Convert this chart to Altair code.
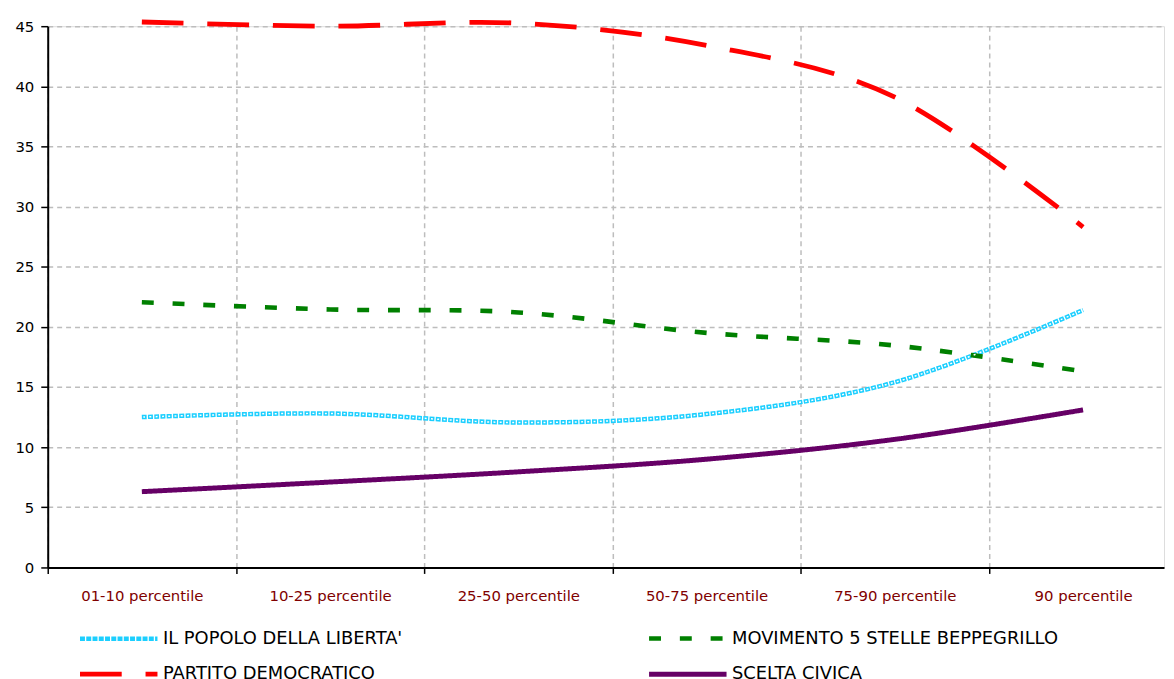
import json
import altair as alt
import pandas as pd

categories = ["01-10 percentile", "10-25 percentile", "25-50 percentile",
              "50-75 percentile", "75-90 percentile", "90 percentile"]
series_names = ["IL POPOLO DELLA LIBERTA'", "MOVIMENTO 5 STELLE BEPPEGRILLO",
                "PARTITO DEMOCRATICO", "SCELTA CIVICA"]
pdl = [12.5, 12.8, 12.05, 12.75, 15.4, 21.4]
m5s = [22.05, 21.45, 21.2, 19.5, 18.45, 16.3]
pd_ = [45.35, 45.0, 45.25, 43.4, 39.1, 28.3]
sc = [6.3, 7.1, 7.95, 9.0, 10.65, 13.1]
y_ticks = [0, 5, 10, 15, 20, 25, 30, 35, 40, 45]

values = [pdl, m5s, pd_, sc]
rows = []
for name, vals in zip(series_names, values):
    for i, v in enumerate(vals):
        rows.append({"series": name, "idx": i, "cat": categories[i], "value": v})
df = pd.DataFrame(rows)

colors = ["#1ccfff", "#008000", "#ff0000", "#660066"]
dashes = [[5, 1.3], [12, 19], [42, 24], [1, 0]]
widths = [4.5, 5, 6, 5]

grid_color = "#bdbdbd"
W, H = 1124, 545
x_domain = [-0.5, 5.43]
unit = W / (x_domain[1] - x_domain[0])
label_expr = json.dumps(categories) + "[round(datum.value + 0.5)]"

x_enc = alt.X(
    "idx:Q",
    scale=alt.Scale(domain=x_domain, nice=False, zero=False),
    axis=alt.Axis(
        values=[-0.5, 0.5, 1.5, 2.5, 3.5, 4.5],
        labelExpr=label_expr,
        labelOffset=unit / 2,
        labelAlign="center",
        labelFlush=False,
        labelOverlap=False,
        labelBound=False,
        labelColor="#800000",
        labelFont="DejaVu Sans",
        labelFontSize=15,
        labelPadding=15,
        title=None,
        grid=True,
        gridColor=grid_color,
        gridDash=[5, 4],
        gridWidth=1.5,
        domainColor="#000000",
        domainWidth=2,
        tickColor="#000000",
        tickSize=6,
        tickWidth=1.5,
    ),
)
y_enc = alt.Y(
    "value:Q",
    scale=alt.Scale(domain=[0, 45], nice=False),
    axis=alt.Axis(
        values=y_ticks,
        title=None,
        grid=True,
        gridColor=grid_color,
        gridDash=[5, 4],
        gridWidth=1.5,
        domainColor="#000000",
        domainWidth=2,
        tickColor="#000000",
        tickSize=7,
        tickWidth=1.5,
        labelColor="#000000",
        labelFont="DejaVu Sans",
        labelFontSize=15,
        labelPadding=7,
    ),
)

# custom wide stroke symbol: path units scale by sqrt(symbolSize)/2 = 10 px
legend = alt.Legend(
    title=None,
    orient="none",
    direction="horizontal",
    legendX=30,
    legendY=604,
    columns=2,
    columnPadding=237,
    rowPadding=14,
    symbolType="M-1,0H6.8",
    symbolSize=400,
    labelFont="DejaVu Sans",
    labelFontSize=18,
    labelColor="#000000",
    labelOffset=61,
    labelLimit=500,
    padding=0,
)

base = alt.Chart(df)
lines = base.mark_line(interpolate="cardinal").encode(
    x=x_enc,
    y=y_enc,
    color=alt.Color("series:N", scale=alt.Scale(domain=series_names, range=colors), legend=legend),
    strokeDash=alt.StrokeDash("series:N", scale=alt.Scale(domain=series_names, range=dashes), legend=legend),
    strokeWidth=alt.StrokeWidth("series:N", scale=alt.Scale(domain=series_names, range=widths), legend=legend),
)
holes = base.transform_filter(
    alt.datum.series == series_names[0]
).mark_line(
    interpolate="cardinal", color="white", strokeWidth=1.5,
    strokeDash=[2, 4.3], strokeDashOffset=-1.5,
).encode(x="idx:Q", y="value:Q")

chart = alt.layer(lines, holes).properties(
    width=W,
    height=H,
    autosize=alt.AutoSizeParams(type="none"),
    padding={"left": 40, "top": 16, "right": 2, "bottom": 110},
).configure_view(stroke=None).configure(background="white")

chart.save("out.html", embed_options={"renderer": "svg", "actions": False})
